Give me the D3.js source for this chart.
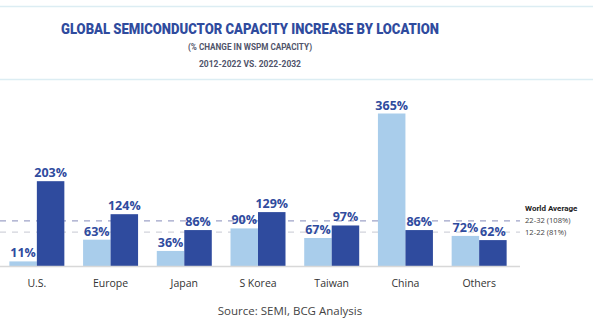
<!DOCTYPE html>
<html>
<head>
<meta charset="utf-8">
<script src="https://cdn.jsdelivr.net/npm/d3@7"></script>
<style>
  html, body { margin: 0; padding: 0; background: #fff; }
  svg { display: block; }
</style>
</head>
<body>
<div id="chart"></div>
<script>
const width = 600;
const height = 322;

// data
const locations = ["U.S.", "Europe", "Japan", "S Korea", "Taiwan", "China", "Others"];
const series = ["12-22", "22-32"];
const change1222 = [11, 63, 36, 90, 67, 365, 72];
const change2232 = [203, 124, 86, 129, 97, 86, 62];
const worldAvg = [
  { key: "22-32", value: 108, label: "22-32 (108%)" },
  { key: "12-22", value: 81, label: "12-22 (81%)" }
];

const colors = { "12-22": "#a9cdeb", "22-32": "#2f4b9e" };
const navy = "#2f4b9e";

const svg = d3.select("#chart")
  .append("svg")
  .attr("width", width)
  .attr("height", height);

// faint box border lines
svg.append("line").attr("x1", 0).attr("x2", 593).attr("y1", 6.5).attr("y2", 6.5)
  .attr("stroke", "#dcedf3").attr("stroke-width", 1.5);
svg.append("line").attr("x1", 0).attr("x2", 593).attr("y1", 79.5).attr("y2", 79.5)
  .attr("stroke", "#dcedf3").attr("stroke-width", 1.5);

// titles (condensed to fit)
svg.append("text")
  .attr("x", 250).attr("y", 34)
  .attr("text-anchor", "middle")
  .attr("font-family", "Roboto")
  .attr("font-weight", 900)
  .attr("font-size", 14.5)
  .attr("textLength", 378)
  .attr("lengthAdjust", "spacingAndGlyphs")
  .attr("fill", navy)
  .text("GLOBAL SEMICONDUCTOR CAPACITY INCREASE BY LOCATION");

svg.append("text")
  .attr("x", 250).attr("y", 50)
  .attr("text-anchor", "middle")
  .attr("font-family", "Roboto")
  .attr("font-weight", 700)
  .attr("font-size", 8.5)
  .attr("textLength", 124)
  .attr("lengthAdjust", "spacingAndGlyphs")
  .attr("fill", "#50546a")
  .text("(% CHANGE IN WSPM CAPACITY)");

svg.append("text")
  .attr("x", 250).attr("y", 67)
  .attr("text-anchor", "middle")
  .attr("font-family", "Roboto")
  .attr("font-weight", 700)
  .attr("font-size", 8.5)
  .attr("textLength", 102)
  .attr("lengthAdjust", "spacingAndGlyphs")
  .attr("fill", "#50546a")
  .text("2012-2022 VS. 2022-2032");

// scales
const x = d3.scaleBand()
  .domain(locations)
  .range([0, 516])
  .paddingInner(0.254)
  .paddingOuter(0.127);

const xSub = d3.scaleBand()
  .domain(series)
  .range([0, x.bandwidth()]);

const y = d3.scaleLinear()
  .domain([0, 365])
  .range([266, 113.5]);

// world average dashed lines
svg.selectAll(".avg-line")
  .data(worldAvg)
  .enter().append("line")
  .attr("class", "avg-line")
  .attr("x1", 0).attr("x2", 520)
  .attr("y1", d => y(d.value)).attr("y2", d => y(d.value))
  .attr("stroke", d => d.key === "22-32" ? "#9ea3c8" : "#d2d4dc")
  .attr("stroke-width", 1.2)
  .attr("stroke-dasharray", "6,6");

const rows = locations.map((loc, i) => ({
  loc: loc,
  values: [
    { key: "12-22", value: change1222[i] },
    { key: "22-32", value: change2232[i] }
  ]
}));

const groups = svg.selectAll(".group")
  .data(rows)
  .enter().append("g")
  .attr("class", "group")
  .attr("transform", d => `translate(${x(d.loc)},0)`);

groups.selectAll("rect")
  .data(d => d.values)
  .enter().append("rect")
  .attr("x", d => xSub(d.key))
  .attr("y", d => y(d.value))
  .attr("width", xSub.bandwidth())
  .attr("height", d => y(0) - y(d.value))
  .attr("fill", d => colors[d.key]);

groups.selectAll(".val")
  .data(d => d.values)
  .enter().append("text")
  .attr("class", "val")
  .attr("x", d => xSub(d.key) + xSub.bandwidth() / 2)
  .attr("y", d => y(d.value) - 4)
  .attr("text-anchor", "middle")
  .attr("font-family", "Open Sans")
  .attr("font-weight", 700)
  .attr("font-size", 12.5)
  .attr("fill", navy)
  .text(d => d.value + "%");

// baseline
svg.append("line")
  .attr("x1", 0).attr("x2", 520)
  .attr("y1", y(0) + 0.5).attr("y2", y(0) + 0.5)
  .attr("stroke", "#d8d8d8")
  .attr("stroke-width", 1.5);

// category labels
const xAxis = svg.append("g")
  .attr("transform", `translate(0,${y(0)})`)
  .call(d3.axisBottom(x).tickSize(0).tickPadding(14));
xAxis.select(".domain").remove();
xAxis.selectAll("text")
  .attr("font-family", "Open Sans")
  .attr("font-size", 10.5)
  .attr("fill", "#333");

// world average legend
svg.append("text")
  .attr("x", 525).attr("y", 211)
  .attr("font-family", "Roboto")
  .attr("font-weight", 700)
  .attr("font-size", 8)
  .attr("fill", "#222")
  .text("World Average");

svg.selectAll(".avg-label")
  .data(worldAvg)
  .enter().append("text")
  .attr("class", "avg-label")
  .attr("x", 525)
  .attr("y", d => y(d.value) + 2.5)
  .attr("font-family", "Open Sans")
  .attr("font-size", 7.6)
  .attr("fill", "#444")
  .text(d => d.label);

// source
svg.append("text")
  .attr("x", 290).attr("y", 315)
  .attr("text-anchor", "middle")
  .attr("font-family", "Open Sans")
  .attr("font-size", 11.5)
  .attr("fill", "#444")
  .text("Source: SEMI, BCG Analysis");
</script>
</body>
</html>
